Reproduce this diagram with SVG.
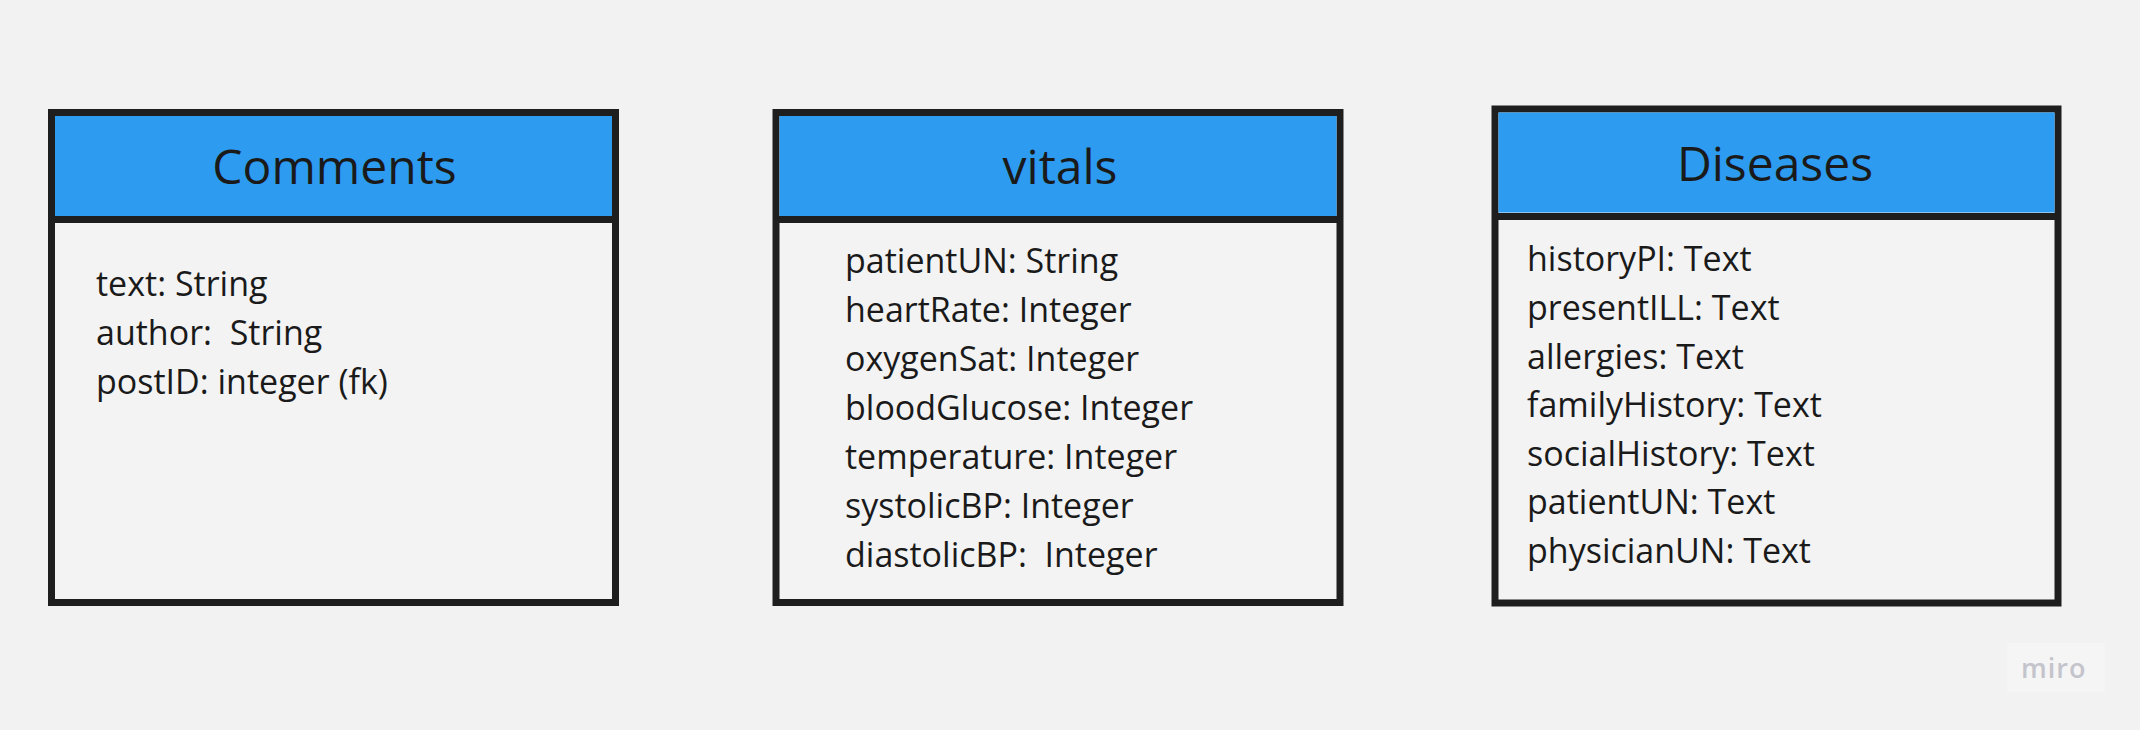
<svg xmlns="http://www.w3.org/2000/svg" width="2140" height="730" viewBox="0 0 2140 730">
<style>
.box{fill:#F3F3F3;stroke:#1E1E1E;stroke-width:7}
.hdr{fill:#2D9BF0}
.sep{stroke:#1E1E1E;stroke-width:7}
.title{font-family:"Open Sans","Liberation Sans",sans-serif;font-size:48px;fill:#1A1A1A;text-anchor:middle}
.attr{font-family:"Open Sans","Liberation Sans",sans-serif;font-size:34px;fill:#1A1A1A}
.wm{font-family:"Open Sans","Liberation Sans",sans-serif;font-size:27px;font-weight:600;fill:#C4C4CC;letter-spacing:1px}
</style>
<rect width="2140" height="730" fill="#F2F2F2"/>
<g id="comments">
<rect class="box" x="51.5" y="112.5" width="564" height="490"/>
<rect class="hdr" x="55" y="116" width="557" height="100"/>
<line class="sep" x1="51.5" y1="219.5" x2="615.5" y2="219.5"/>
<text class="title" x="334.5" y="184">Comments</text>
<text class="attr" x="96" y="296">text: String</text>
<text class="attr" x="96" y="345" xml:space="preserve">author:  String</text>
<text class="attr" x="96" y="394">postID: integer (fk)</text>
</g>
<g id="vitals">
<rect class="box" x="776" y="112.5" width="564" height="490"/>
<rect class="hdr" x="779.5" y="116" width="557" height="100"/>
<line class="sep" x1="776" y1="219.5" x2="1340" y2="219.5"/>
<text class="title" x="1060" y="184">vitals</text>
<text class="attr" x="845" y="273">patientUN: String</text>
<text class="attr" x="845" y="322">heartRate: Integer</text>
<text class="attr" x="845" y="371">oxygenSat: Integer</text>
<text class="attr" x="845" y="420">bloodGlucose: Integer</text>
<text class="attr" x="845" y="469">temperature: Integer</text>
<text class="attr" x="845" y="518">systolicBP: Integer</text>
<text class="attr" x="845" y="567" xml:space="preserve">diastolicBP:  Integer</text>
</g>
<g id="diseases">
<rect class="box" x="1495" y="109" width="563" height="494"/>
<rect class="hdr" x="1498.5" y="112.5" width="556" height="100"/>
<line class="sep" x1="1495" y1="216.5" x2="2058" y2="216.5"/>
<text class="title" x="1775" y="181">Diseases</text>
<text class="attr" x="1527" y="271">historyPI: Text</text>
<text class="attr" x="1527" y="320">presentILL: Text</text>
<text class="attr" x="1527" y="369">allergies: Text</text>
<text class="attr" x="1527" y="417">familyHistory: Text</text>
<text class="attr" x="1527" y="466">socialHistory: Text</text>
<text class="attr" x="1527" y="514">patientUN: Text</text>
<text class="attr" x="1527" y="563">physicianUN: Text</text>
</g>
<g id="connectors"/>
<rect x="2007" y="643" width="98" height="49" fill="#F5F5F5"/>
<text class="wm" x="2021" y="678">miro</text>
</svg>
